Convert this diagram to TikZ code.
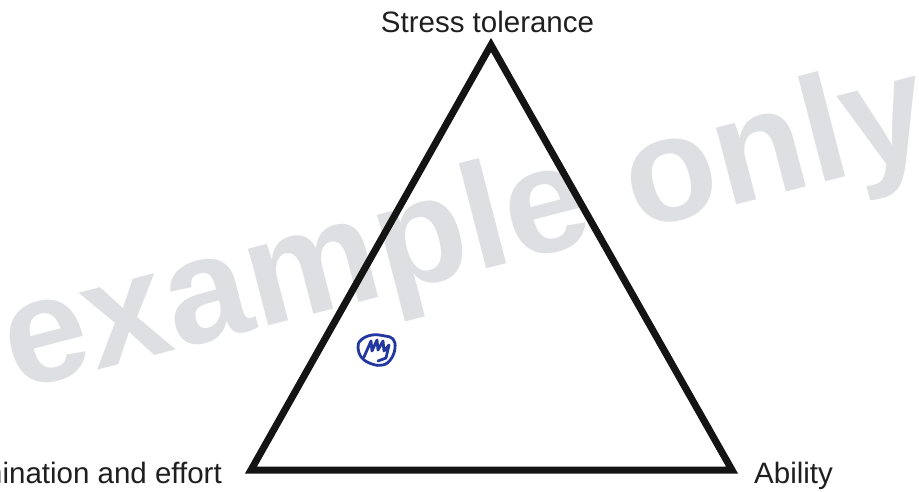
\documentclass[tikz,border=0pt]{standalone}
\usepackage{fontspec}
\setmainfont{Liberation Sans}
\definecolor{wmgray}{RGB}{222,223,226}
\definecolor{inkblue}{RGB}{35,55,160}
\tikzset{
  lbl/.style={inner sep=0pt, font=\fontsize{29.5}{34}\selectfont, text=black!88},
  wm/.style={inner sep=0pt, font=\fontsize{150}{150}\selectfont\bfseries, text=wmgray},
  tri/.style={line width=7pt, line join=miter, draw=black!92},
  ink/.style={draw=inkblue, line width=2.8pt, line cap=round, line join=round}
}
\begin{document}
\begin{tikzpicture}[x=1pt,y=1pt]
\useasboundingbox (0,0) rectangle (919,491);
% watermark
\node[wm, anchor=base west, rotate=14.5] (wmark) at (16,100) {example only};
% triangle
\coordinate (top) at (491,446);
\coordinate (bl) at (251,21);
\coordinate (br) at (732,21);
\draw[tri] (top) -- (bl) -- (br) -- cycle;
% labels
\node[lbl, anchor=base] (stress) at (487.5,458) {Stress tolerance};
\node[lbl, anchor=base east] (det) at (222,8) {Determination and effort};
\node[lbl, anchor=base west] (abil) at (754,8) {Ability};
% scribble
\draw[ink] plot[smooth cycle, tension=0.7] coordinates {(361,151) (372,156) (385,155) (393,152) (395,143) (391,132) (383,126) (372,127) (362,133) (358,143)};
\draw[ink] (364,134) -- (371,150) -- (372,140) -- (377,151) -- (378,141) -- (383,150) -- (384,140) -- (389,146) -- (386,133) -- (378,130);
\end{tikzpicture}
\end{document}
